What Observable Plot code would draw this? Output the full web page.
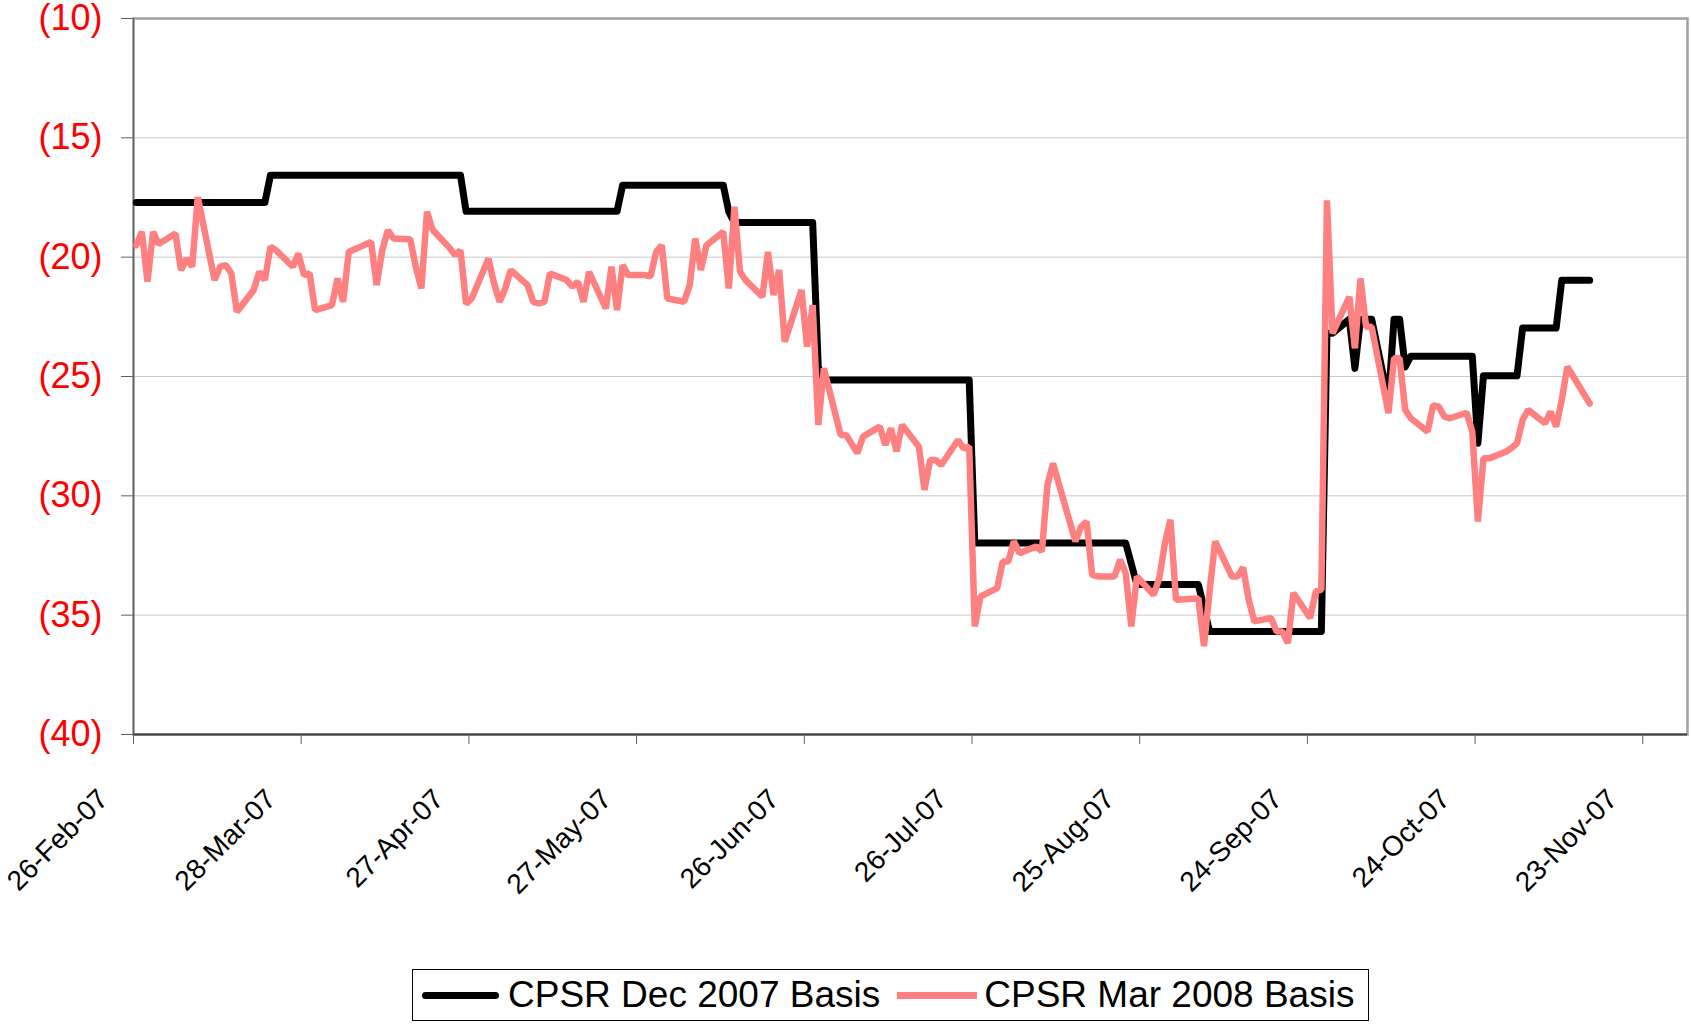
<!DOCTYPE html>
<html>
<head>
<meta charset="utf-8">
<script src="https://cdn.jsdelivr.net/npm/d3@7"></script>
<script src="https://cdn.jsdelivr.net/npm/@observablehq/plot@0.6"></script>
<style>
  body { margin: 0; background: #fff; font-family: "Liberation Sans", Arial, sans-serif; }
  #chart svg { display: block; }
  #legend {
    margin-left: 412px; width: 955px; height: 50px; box-sizing: content-box;
    border: 1.5px solid #000; display: flex; align-items: center;
    font-size: 37px; color: #000; white-space: nowrap;
  }
  #legend .sw { display: inline-block; height: 7px; }
</style>
</head>
<body>
<div id="chart"></div>
<div id="legend">
  <span class="sw" style="width:77px;background:#000;border-radius:4px;margin-left:9px;"></span>
  <span style="margin-left:9px;">CPSR Dec 2007 Basis</span>
  <span class="sw" style="width:80px;background:#ff8080;margin-left:17px;"></span>
  <span style="margin-left:7px;">CPSR Mar 2008 Basis</span>
</div>
<script>
// ---- Data ----
const dec07Dates = [
  "2007-02-26","2007-03-21","2007-03-22","2007-04-25","2007-04-26","2007-05-23","2007-05-24",
  "2007-06-11","2007-06-12","2007-06-13","2007-06-27","2007-06-28","2007-06-29","2007-07-25",
  "2007-07-26","2007-08-22","2007-08-24","2007-09-04","2007-09-06","2007-09-26","2007-09-27",
  "2007-09-28","2007-10-01","2007-10-02","2007-10-03","2007-10-04","2007-10-05","2007-10-08",
  "2007-10-09","2007-10-10","2007-10-11","2007-10-12","2007-10-23","2007-10-24","2007-10-25",
  "2007-10-31","2007-11-01","2007-11-07","2007-11-08","2007-11-13"
];
const dec07Values = [
  -17.71,-17.71,-16.57,-16.57,-18.08,-18.08,-16.99,
  -16.99,-18.10,-18.55,-18.55,-24.60,-25.15,-25.15,
  -31.98,-31.98,-33.72,-33.72,-35.68,-35.68,-23.19,
  -23.19,-22.60,-24.66,-22.60,-22.60,-22.60,-26.00,
  -22.60,-22.60,-24.60,-24.15,-24.15,-27.80,-24.97,
  -24.97,-22.97,-22.97,-20.97,-20.97
];
const mar08Dates = [
  "2007-02-26","2007-02-27","2007-02-28","2007-03-01","2007-03-02","2007-03-05","2007-03-06",
  "2007-03-07","2007-03-08","2007-03-09","2007-03-12","2007-03-13","2007-03-14","2007-03-15",
  "2007-03-16","2007-03-19","2007-03-20","2007-03-21","2007-03-22","2007-03-23","2007-03-26",
  "2007-03-27","2007-03-28","2007-03-29","2007-03-30","2007-04-02","2007-04-03","2007-04-04",
  "2007-04-05","2007-04-09","2007-04-10","2007-04-11","2007-04-12","2007-04-13","2007-04-16",
  "2007-04-17","2007-04-18","2007-04-19","2007-04-20","2007-04-23","2007-04-24","2007-04-25",
  "2007-04-26","2007-04-27","2007-04-30","2007-05-01","2007-05-02","2007-05-03","2007-05-04",
  "2007-05-07","2007-05-08","2007-05-09","2007-05-10","2007-05-11","2007-05-14","2007-05-15",
  "2007-05-16","2007-05-17","2007-05-18","2007-05-21","2007-05-22","2007-05-23","2007-05-24",
  "2007-05-25","2007-05-28","2007-05-29","2007-05-30","2007-05-31","2007-06-01","2007-06-04",
  "2007-06-05","2007-06-06","2007-06-07","2007-06-08","2007-06-11","2007-06-12","2007-06-13",
  "2007-06-14","2007-06-15","2007-06-18","2007-06-19","2007-06-20","2007-06-21","2007-06-22",
  "2007-06-25","2007-06-26","2007-06-27","2007-06-28","2007-06-29","2007-07-02","2007-07-03",
  "2007-07-05","2007-07-06","2007-07-09","2007-07-10","2007-07-11","2007-07-12","2007-07-13",
  "2007-07-16","2007-07-17","2007-07-18","2007-07-19","2007-07-20","2007-07-23","2007-07-24",
  "2007-07-25","2007-07-26","2007-07-27","2007-07-30","2007-07-31","2007-08-01","2007-08-02",
  "2007-08-03","2007-08-06","2007-08-07","2007-08-08","2007-08-09","2007-08-10","2007-08-13",
  "2007-08-14","2007-08-15","2007-08-16","2007-08-17","2007-08-20","2007-08-21","2007-08-22",
  "2007-08-23","2007-08-24","2007-08-27","2007-08-28","2007-08-29","2007-08-30","2007-08-31",
  "2007-09-04","2007-09-05","2007-09-06","2007-09-07","2007-09-10","2007-09-11","2007-09-12",
  "2007-09-13","2007-09-14","2007-09-17","2007-09-18","2007-09-19","2007-09-20","2007-09-21",
  "2007-09-24","2007-09-25","2007-09-26","2007-09-27","2007-09-28","2007-10-01","2007-10-02",
  "2007-10-03","2007-10-04","2007-10-05","2007-10-08","2007-10-09","2007-10-10","2007-10-11",
  "2007-10-12","2007-10-15","2007-10-16","2007-10-17","2007-10-18","2007-10-19","2007-10-22",
  "2007-10-23","2007-10-24","2007-10-25","2007-10-26","2007-10-29","2007-10-30","2007-10-31",
  "2007-11-01","2007-11-02","2007-11-05","2007-11-06","2007-11-07","2007-11-08","2007-11-09",
  "2007-11-13"
];
const mar08Values = [
  -19.50,-18.94,-21.03,-18.94,-19.45,-19.01,-20.54,
  -20.06,-20.40,-17.48,-20.96,-20.40,-20.33,-20.68,
  -22.29,-21.38,-20.61,-20.96,-19.57,-19.71,-20.40,
  -19.85,-20.75,-20.68,-22.22,-22.01,-20.89,-21.87,
  -19.78,-19.36,-21.17,-19.71,-18.87,-19.22,-19.25,
  -20.40,-21.31,-18.10,-18.85,-19.60,-19.91,-19.72,
  -21.96,-21.73,-20.06,-21.10,-21.87,-21.31,-20.54,
  -21.17,-21.87,-21.94,-21.87,-20.68,-20.96,-21.24,
  -21.03,-21.87,-20.61,-22.15,-20.40,-22.22,-20.33,
  -20.75,-20.75,-20.80,-19.78,-19.50,-21.73,-21.87,
  -21.17,-19.22,-20.54,-19.50,-18.94,-21.31,-17.89,
  -20.61,-20.96,-21.66,-19.78,-21.59,-20.54,-23.54,
  -21.38,-23.75,-22.01,-27.03,-24.66,-27.45,-27.45,
  -28.21,-27.52,-27.10,-27.87,-27.17,-28.14,-27.03,
  -27.94,-29.75,-28.50,-28.50,-28.71,-27.66,-28.01,
  -27.94,-35.47,-34.22,-33.87,-32.75,-32.75,-31.91,
  -32.40,-32.12,-32.33,-29.54,-28.64,-29.47,-31.91,
  -31.29,-31.08,-33.31,-33.38,-33.38,-32.68,-33.24,
  -35.47,-33.38,-34.15,-33.45,-32.00,-31.00,-34.35,
  -34.30,-36.30,-34.00,-31.91,-33.38,-33.38,-33.00,
  -34.35,-35.26,-35.12,-35.68,-35.68,-36.17,-34.07,
  -35.12,-34.00,-33.93,-17.62,-23.19,-21.66,-23.82,
  -20.89,-22.92,-22.92,-26.54,-24.24,-24.24,-26.40,
  -26.75,-27.31,-26.20,-26.26,-26.68,-26.75,-26.52,
  -27.31,-31.08,-28.43,-28.43,-28.15,-28.00,-27.80,
  -26.82,-26.40,-26.96,-26.47,-27.10,-25.99,-24.59,
  -26.13
];
const xTickDates = ["2007-02-26","2007-03-28","2007-04-27","2007-05-27","2007-06-26",
                    "2007-07-26","2007-08-25","2007-09-24","2007-10-24","2007-11-23"];
const xDomainDates = ["2007-02-26","2007-12-01"];
const yTicks = [-10,-15,-20,-25,-30,-35,-40];
const yGrid = [-15,-20,-25,-30,-35];
const seriesNames = ["CPSR Dec 2007 Basis","CPSR Mar 2008 Basis"];

// ---- Build rows ----
const parse = d3.utcParse("%Y-%m-%d");
// Excel date axis plots each day in the middle of its day slot
const midDay = s => new Date(+parse(s) + 12 * 3600 * 1000);
const dec07 = dec07Dates.map((d, i) => ({date: midDay(d), value: dec07Values[i], series: seriesNames[0]}));
const mar08 = mar08Dates.map((d, i) => ({date: midDay(d), value: mar08Values[i], series: seriesNames[1]}));
const xTicks = xTickDates.map(parse);
const fmt = d3.utcFormat("%d-%b-%y");

const chart = Plot.plot({
  width: 1691,
  height: 969,
  marginLeft: 133,
  marginRight: 4,
  marginTop: 18,
  marginBottom: 235,
  style: {fontFamily: "'Liberation Sans', Arial, sans-serif", background: "white", overflow: "visible"},
  x: {type: "utc", domain: xDomainDates.map(parse)},
  y: {domain: [-40, -10]},
  marks: [
    Plot.gridY(yGrid, {stroke: "#c8c8c8", strokeOpacity: 1, strokeWidth: 1}),
    Plot.frame({stroke: "#a0a0a0", strokeWidth: 2.5}),
    Plot.ruleX([xTicks[0]], {stroke: "#606060", strokeWidth: 1.2}),
    Plot.ruleY([-40], {stroke: "#404040", strokeWidth: 2}),
    Plot.axisY(yTicks, {
      tickSize: 12, tickPadding: 19, stroke: "#606060", fill: "#ff0000",
      fontSize: 36, tickFormat: d => `(${Math.abs(d)})`, label: null
    }),
    Plot.axisX(xTicks, {tickSize: 10, stroke: "#606060", fill: "none", label: null}),
    Plot.text(xTicks, {
      x: d => d, text: d => fmt(d), frameAnchor: "bottom", rotate: -45,
      textAnchor: "end", lineAnchor: "middle", dx: -30, dy: 60, fontSize: 28, fill: "#000"
    }),
    Plot.line(dec07, {x: "date", y: "value", stroke: "#000", strokeWidth: 7,
      strokeLinejoin: "round", strokeLinecap: "round"}),
    Plot.line(mar08, {x: "date", y: "value", stroke: "#ff8080", strokeWidth: 6.5,
      strokeLinejoin: "bevel"})
  ]
});
document.getElementById("chart").appendChild(chart);
</script>
</body>
</html>
